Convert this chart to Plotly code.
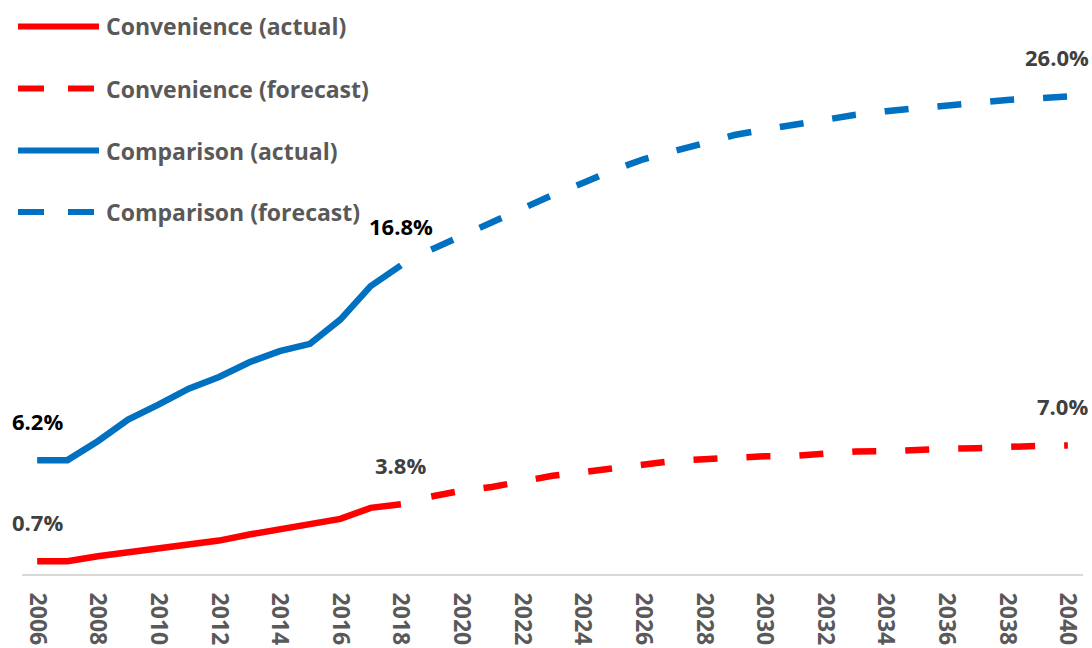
import plotly.graph_objects as go

# ---------------- data ----------------
years_actual = list(range(2006, 2019))
years_forecast = list(range(2019, 2041))

conv_actual = [0.7, 0.7, 0.97, 1.19, 1.37, 1.66, 1.82, 2.15, 2.42, 2.69, 3.0, 3.6, 3.8]
conv_forecast = [4.22, 4.53, 4.74, 5.07, 5.35, 5.54, 5.72, 5.98, 6.16, 6.25, 6.35,
                 6.41, 6.43, 6.56, 6.67, 6.68, 6.77, 6.82, 6.85, 6.93, 6.98, 7.0]
comp_actual = [6.2, 6.2, 7.23, 8.41, 9.22, 10.09, 10.73, 11.53, 12.13, 12.53, 13.85, 15.67, 16.8]
comp_forecast = [17.66, 18.40, 19.16, 19.91, 20.63, 21.29, 21.99, 22.58, 23.05, 23.48, 23.9,
                 24.2, 24.48, 24.8, 25.0, 25.2, 25.36, 25.5, 25.69, 25.81, 25.9, 26.0]

legend_names = ["Convenience (actual)", "Convenience (forecast)",
                "Comparison (actual)", "Comparison (forecast)"]

RED = "#FF0000"
BLUE = "#0070C0"
GREY = "#595959"
DARK = "#404040"
FONT = "Open Sans"

W, H = 1092, 648
ML, MR, MT, MB = 22, 9, 23, 74
LW = 6.5
DASH = "24px,29px"

fig = go.Figure()
fig.add_trace(go.Scatter(x=years_actual, y=conv_actual, mode="lines",
                         line=dict(color=RED, width=LW), name=legend_names[0]))
fig.add_trace(go.Scatter(x=years_forecast, y=conv_forecast, mode="lines",
                         line=dict(color=RED, width=LW, dash=DASH), name=legend_names[1]))
fig.add_trace(go.Scatter(x=years_actual, y=comp_actual, mode="lines",
                         line=dict(color=BLUE, width=LW), name=legend_names[2]))
fig.add_trace(go.Scatter(x=years_forecast, y=comp_forecast, mode="lines",
                         line=dict(color=BLUE, width=LW, dash=DASH), name=legend_names[3]))

# data labels
labels = [
    (years_actual[0], conv_actual[0], DARK, 0),
    (years_actual[-1], conv_actual[-1], DARK, 0),
    (years_actual[0], comp_actual[0], "#000000", 0),
    (years_actual[-1], comp_actual[-1], "#000000", 0),
    (years_forecast[-1], conv_forecast[-1], DARK, -5),
    (years_forecast[-1], comp_forecast[-1], DARK, -11),
]
for x, y, c, xs in labels:
    fig.add_annotation(x=x, y=y, text=f"{y:.1f}%", showarrow=False, xref="x", yref="y",
                       yshift=39, xshift=xs, xanchor="center", yanchor="middle",
                       font=dict(family=FONT, size=22, color=c, weight="bold"))

# custom legend (long line samples like the original)
pw = W - ML - MR
ph = H - MT - MB
def px_x(px):
    return (px - ML) / pw
def px_y(py):
    return (H - MB - py) / ph

leg_y = [26.5, 88.5, 150.5, 212]
leg_style = [(RED, None), (RED, "26px,24px"), (BLUE, None), (BLUE, "26px,24px")]
for name, yy, (col, dash) in zip(legend_names, leg_y, leg_style):
    line = dict(color=col, width=6)
    if dash:
        line["dash"] = dash
        x0, x1 = 18, 97
    else:
        x0, x1 = 18, 99
    fig.add_shape(type="line", xref="paper", yref="paper",
                  x0=px_x(x0), x1=px_x(x1), y0=px_y(yy), y1=px_y(yy), line=line)
    fig.add_annotation(x=px_x(104), y=px_y(yy), xref="paper", yref="paper", text=name,
                       showarrow=False, xanchor="left", yanchor="middle",
                       font=dict(family=FONT, size=23, color=GREY, weight="bold"))

fig.update_layout(
    width=W, height=H,
    margin=dict(l=ML, r=MR, t=MT, b=MB, autoexpand=False),
    paper_bgcolor="white", plot_bgcolor="white",
    showlegend=False,
    font=dict(family=FONT, color=GREY),
)
fig.update_xaxes(range=[2005.5, 2040.5], tick0=2006, dtick=2, tickangle=90,
                 showgrid=False, zeroline=False, showline=True, linecolor="#D9D9D9",
                 linewidth=2, ticks="", ticklabelstandoff=12, automargin=False,
                 tickfont=dict(family=FONT, size=23, color=GREY, weight="bold"))
fig.update_yaxes(range=[0, 30], visible=False, showgrid=False, zeroline=False,
                 automargin=False)

fig.write_html("out.html")
